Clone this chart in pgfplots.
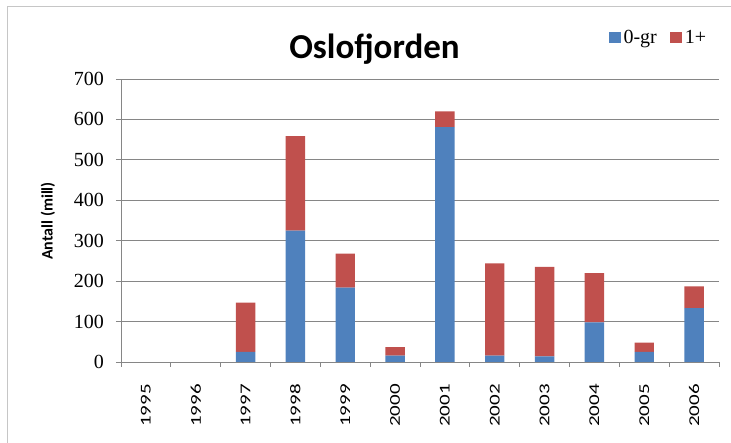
\documentclass[border=0pt]{standalone}
\usepackage{fontspec}
\usepackage{graphicx}
\setmainfont{Liberation Serif}
\newfontfamily\calfont{Carlito}
\usepackage{pgfplots}
\pgfplotsset{compat=1.18}
\definecolor{xblue}{HTML}{4F81BD}
\definecolor{xred}{HTML}{C0504D}
\definecolor{gridc}{HTML}{868686}
\newcommand{\yl}[1]{\scalebox{1.4}[1]{#1}}
\begin{document}
\begin{tikzpicture}[x=1bp,y=1bp]
\path[use as bounding box] (-121,-81) rectangle (610,362);
\draw[gray!45, line width=1bp] (-113,-120) -- (-113,355) -- (700,355);
\begin{axis}[at={(0,0)}, anchor=south west, scale only axis,
  width=598bp, height=283bp,
  ybar stacked, bar width=0.39,
  xmin=-0.5, xmax=11.5, ymin=0, ymax=700,
  axis x line*=bottom, axis y line*=left,
  axis line style={draw=gridc, line width=0.9bp, -},
  tick align=outside,
  ytick={0,100,...,700},
  ymajorgrids, grid style={draw=gridc, line width=0.9bp},
  major tick length=5bp,
  tick style={draw=gridc, line width=0.9bp},
  xtick={-0.5,0.5,...,11.5}, xticklabels={},
  extra x ticks={0,1,...,11},
  extra x tick labels={\yl{1995},\yl{1996},\yl{1997},\yl{1998},\yl{1999},\yl{2000},\yl{2001},\yl{2002},\yl{2003},\yl{2004},\yl{2005},\yl{2006}},
  extra x tick style={major tick length=0pt, grid=none,
     xticklabel style={rotate=90, anchor=east, inner sep=0pt,
       font=\calfont\fontsize{15bp}{15bp}\selectfont}},
  xticklabel shift=22bp,
  /pgf/number format/assume math mode=true,
  yticklabel style={font=\fontsize{20bp}{20bp}\selectfont, inner sep=0pt, anchor=east},
  yticklabel shift=12bp,
  legend columns=2,
  legend style={at={(axis description cs:0.815,1.145)}, anchor=west, draw=none, fill=none,
     font=\fontsize{20bp}{20bp}\selectfont, inner sep=0pt,
     nodes={inner xsep=3bp, inner ysep=0pt},
     /tikz/every even column/.append style={column sep=10bp}},
  legend image code/.code={\fill[#1] (0bp,-5.5bp) rectangle (12bp,5.5bp);},
]
\addplot[fill=xblue, draw=none] coordinates {(0,0) (1,0) (2,25) (3,325) (4,184) (5,16) (6,581) (7,16) (8,14) (9,98) (10,25) (11,133)};
\addplot[fill=xred, draw=none] coordinates {(0,0) (1,0) (2,122) (3,234) (4,84) (5,21) (6,39) (7,228) (8,221) (9,122) (10,23) (11,54)};
\legend{0-gr,1+}
\end{axis}
\node[anchor=base, font=\calfont\bfseries\fontsize{35bp}{35bp}\selectfont] at (253.5,303) {Oslofjorden};
\node[rotate=90, font=\calfont\bfseries\fontsize{16bp}{16bp}\selectfont] at (-73,141) {Antall (mill)};
\end{tikzpicture}
\end{document}
